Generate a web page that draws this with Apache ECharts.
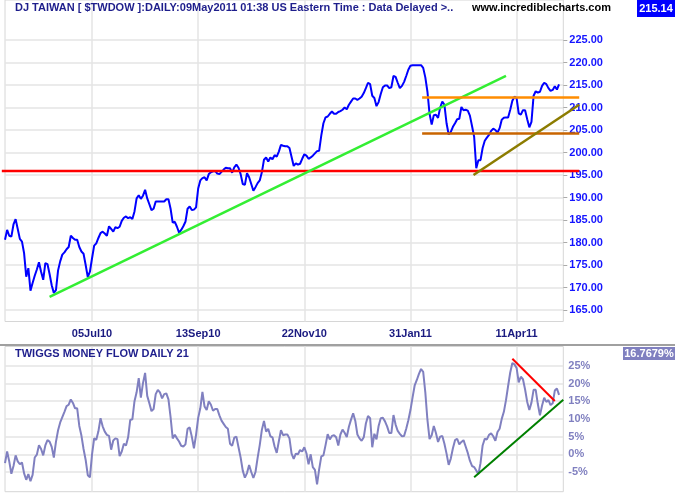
<!DOCTYPE html>
<html><head><meta charset="utf-8">
<script src="https://cdn.jsdelivr.net/npm/echarts@6/dist/echarts.min.js"></script>
<style>html,body{margin:0;padding:0;background:#fff}#c{width:675px;height:500px}</style>
</head><body><div id="c"></div>
<script>
// ---- data ----
const tickLabels = ['05Jul10','13Sep10','22Nov10','31Jan11','11Apr11'];
const priceTicks = [165,170,175,180,185,190,195,200,205,210,215,220,225];
const mfTicks = [-5,0,5,10,15,20,25];

const price = [
180.6,182.8,181.5,181.3,184,185.2,183,180.8,180.2,177.6,
172.4,174.3,169.3,171,172.6,174,175.6,173.5,171.7,175.4,
175.2,173,170.5,168.8,169.4,173.8,175.8,177.3,177.8,178.5,
179,181.5,181,180.6,180.6,179,178,177.5,175,172.3,
173.5,176.5,179.3,179.8,181,182.1,182.4,182,181.5,183.6,
183,182.4,183.4,183.2,183.5,184.8,185.5,185.8,185.4,185.6,
185.2,186.9,189.8,190.5,189.7,190.4,191.7,189.8,188.5,187.2,
187.5,189.1,189.1,189.1,189.1,189.1,189.6,189.6,187.5,184.4,
184.6,183.5,182.2,182.8,183.6,184.6,187.5,188,187.2,187.3,
187.8,192,193.8,194.3,194.5,193.8,195.2,195.6,195.8,195.9,
195.3,195.2,195.7,196.2,196.6,196.5,196.5,195.5,196.7,197.3,
196.6,195.2,193,192.8,195.4,194.5,193,191.5,192.3,193.2,
193.8,195.6,198.4,198.9,198,198.9,198.5,199.4,199.1,200.2,
201.7,201.5,201.4,201.4,201,199,197,197.6,197.3,197.5,
198.6,199.6,199.3,198.6,198.9,199.3,199.8,200.3,200.4,203.8,
206.5,207.8,208,208.6,209.1,208.6,208.6,209,209.2,209.5,
210,209.6,210.6,211.3,212,212,211.7,212,212.4,213.2,
214.3,215.5,215.2,212.6,212.1,210.3,211.2,213,214.5,214.9,
214.9,214.3,214.5,217,216.8,215.5,214.3,214.8,215.7,217,
218.4,219.3,219.4,219.4,219.4,219.4,219.4,218.8,216.7,213.5,
208.6,206.2,208.3,208.4,207.7,210,211.3,210.6,206.5,204,
204.6,205.7,206.5,207.4,207.5,210.1,209.4,209.5,209.3,208.2,
205.9,203.5,196.5,198.3,198.3,201,202.6,203.3,203.9,204.8,
205.3,205,204.4,205.4,207.3,207.7,207.8,207.8,209.5,211.5,
212.4,212.1,208.7,208.4,209.4,209.4,207.4,205.6,206.8,212.6,
213.6,213.3,213.5,214.8,215.5,215.2,214.3,213.7,213.9,214.7,
214,215.14];

const moneyFlow = [
-2.5,0.8,-2,-5.5,-3.3,-0.3,-2,-2.8,-2.3,-5.4,
-7.2,-5.6,-7.6,-5.8,-0.9,-0.1,2.6,1.5,-0.3,2.5,
4,3.6,2.1,-0.9,3.5,6.8,9,10.5,12,13.6,
14,15.5,14.5,13,13,8,5.3,1.5,-1.6,-5.9,
-6.5,0,4.5,4.1,6.5,10.2,7.9,6.4,5.5,5.2,
1.3,3.9,4.5,4.3,-0.5,0.8,3,2.5,4.8,9.7,
9.9,15,17.5,21.5,16,20.1,23,16.5,14.4,12.2,
12.8,17,18.2,17.5,15.8,17,17.2,15.5,10.5,4.5,
5.5,4.5,3.6,2.4,2.2,2.8,7.2,7.6,5,1.7,
5.5,10.3,13,17.6,13.5,12.5,15,14,12.3,12.8,
12.8,11,9.5,8.6,7.7,7.2,3,2.4,4.7,5,
2,-0.9,-4.6,-6.6,-5.3,-3,-5,-6.7,-5,-1,
2.6,6.9,9.4,6.4,7.2,5.1,4.8,2.2,0.4,3.7,
6.8,5.4,5.6,5.6,4.5,0.2,-1.3,0.2,0,1.2,
0.8,2,0.3,-2.8,0,-3.6,-4.4,-8.5,-4.2,-0.6,
-0.3,2.6,5.7,4.2,5.2,5.4,4.8,2.5,5.6,7,
6.1,4.9,7.8,9.8,11.6,9.5,5.6,4.5,3.8,4.8,
8.7,10.8,10.2,2,5.8,4.2,8,10.2,10.3,9.3,
7.9,6,6,11.1,8.4,6.6,5.8,5.1,5.2,7.2,
9.6,12.5,16.1,19.5,21,22.7,24.1,23.3,17.5,9.7,
4.3,5.4,8,6,3.5,5,5.2,3,0.2,-3,
-1.2,1.7,4,4.4,2.8,3.5,4,2.2,0.4,-1.8,
-3.3,-3.6,-4.6,-5.6,-2.5,2.5,4.4,4.2,5.5,5.9,
5.1,3.8,6.3,7.2,10,12,15.3,19.3,23.1,25.8,
25.4,24.4,20.3,21.9,21.2,18.3,14.8,12.5,14.6,18.2,
18.2,14.2,11,13.8,16,14.8,15.3,13.9,14.4,18,
18.6,16.77];

// annotation lines: [index, value] pairs
const supportLine = [[-1.5,195.9],[270.5,195.9]];
const longTrend = [[21,167.9],[236,217.0]];
const resistUpper = [[196.5,212.2],[270.5,212.2]];
const resistLower = [[196.5,204.2],[270.5,204.2]];
const shortTrend = [[220.7,195.0],[270.5,210.6]];
const mfResistance = [[239,27.0],[259,15.05]];
const mfSupport = [[221,-6.45],[263,15.4]];

const titleText = 'DJ TAIWAN [ $TWDOW ]:DAILY:09May2011 01:38 US Eastern Time : Data Delayed >..';
const siteText = 'www.incrediblecharts.com';
const mfTitle = 'TWIGGS MONEY FLOW DAILY 21';
const mfLastText = '16.7679%';

// ---- categories: trading days (Mon-Fri) ----
const MONTHS = ['Jan','Feb','Mar','Apr','May','Jun','Jul','Aug','Sep','Oct','Nov','Dec'];
const nDays = 264;
const dates = [];
let t = Date.UTC(2010,4,7);
while (dates.length < nDays) {
  const d = new Date(t);
  const wd = d.getUTCDay();
  if (wd !== 0 && wd !== 6) {
    dates.push(String(d.getUTCDate()).padStart(2,'0') + MONTHS[d.getUTCMonth()] + String(d.getUTCFullYear()).slice(2));
  }
  t += 86400000;
}
const tickSet = new Set(tickLabels);
const isTick = (i, v) => tickSet.has(v);

// ---- layout ----
const FONT = '"Liberation Sans", Arial, sans-serif';
const L = 5, R = 563.3;
const step = (R - L) / (nDays - 1);
const topH = 321.5;
const grid2Top = 346.5, grid2Bottom = 491.7;
const pMin = 162.44, pMax = 233.89;
const mMin = -10.56, mMax = 30.45;
const gridColor = '#e4e4e4';

const chart = echarts.init(document.getElementById('c'), null, {renderer:'canvas'});
const ovl = (data, color, width) => ({
  type:'line', xAxisIndex:2, yAxisIndex:2, data, symbol:'none', silent:true,
  lineStyle:{color, width}, z:5
});
chart.setOption({
  animation:false,
  backgroundColor:'#fff',
  grid:[
    {left:L, width:R-L, top:0, height:topH, show:true, borderColor:'#d6d6d6', borderWidth:1},
    {left:L, width:R-L, top:grid2Top, height:grid2Bottom-grid2Top, show:true, borderColor:'#d6d6d6', borderWidth:1},
    {left:L-2*step, width:273*step, top:0, height:topH, show:false}
  ],
  xAxis:[
    {type:'category', gridIndex:0, data:dates, boundaryGap:false,
     axisLine:{show:false}, axisTick:{show:false},
     axisLabel:{interval:isTick, color:'#1a1a80', fontWeight:'bold', fontSize:11, fontFamily:FONT, margin:7},
     splitLine:{show:true, interval:isTick, lineStyle:{color:gridColor, width:1.5}}},
    {type:'category', gridIndex:1, data:dates, boundaryGap:false,
     axisLine:{show:false},
     axisTick:{show:true, interval:isTick, length:5, lineStyle:{color:gridColor, width:1.5}},
     axisLabel:{show:false},
     splitLine:{show:true, interval:isTick, lineStyle:{color:gridColor, width:1.5}}},
    {type:'value', gridIndex:2, min:-2, max:271, show:false}
  ],
  yAxis:[
    {type:'value', gridIndex:0, position:'right', min:pMin, max:pMax,
     axisLine:{show:false},
     axisTick:{show:true, length:4, customValues:priceTicks, lineStyle:{color:'#aaa'}},
     axisLabel:{customValues:priceTicks, formatter:v=>Number(v).toFixed(2), color:'#1414ff', fontWeight:'bold', fontSize:11, fontFamily:FONT, margin:6},
     splitLine:{show:true, lineStyle:{color:gridColor, width:1.5}}},
    {type:'value', gridIndex:1, position:'right', min:mMin, max:mMax,
     axisLine:{show:false}, axisTick:{show:false, customValues:mfTicks},
     axisLabel:{customValues:mfTicks, formatter:v=>v+'%', color:'#8080c0', fontWeight:'bold', fontSize:11, fontFamily:FONT, margin:5},
     splitLine:{show:true, lineStyle:{color:gridColor, width:1.5}}},
    {type:'value', gridIndex:2, min:pMin, max:pMax, show:false}
  ],
  series:[
    {type:'line', xAxisIndex:0, yAxisIndex:0, data:price, symbol:'none', silent:true,
     lineStyle:{color:'#0000ff', width:2}},
    {type:'line', xAxisIndex:1, yAxisIndex:1, data:moneyFlow, symbol:'none', silent:true,
     lineStyle:{color:'#8080c0', width:2},
     markLine:{silent:true, symbol:['none','none'], label:{show:false}, animation:false,
       data:[
         [{yAxis:0, lineStyle:{color:'#8080c0', width:1.5, type:'solid'}}, {yAxis:0, x:R}],
         [{coord:[dates[mfResistance[0][0]], mfResistance[0][1]], lineStyle:{color:'#ff0000', width:2, type:'solid'}},
          {coord:[dates[mfResistance[1][0]], mfResistance[1][1]]}],
         [{coord:[dates[mfSupport[0][0]], mfSupport[0][1]], lineStyle:{color:'#008000', width:2, type:'solid'}},
          {coord:[dates[mfSupport[1][0]], mfSupport[1][1]]}]
       ]}},
    ovl(supportLine, '#ff0000', 2.5),
    ovl(longTrend, '#33ee33', 2.5),
    ovl(resistUpper, '#ff8c00', 2.5),
    ovl(resistLower, '#c86400', 2.5),
    ovl(shortTrend, '#8c7c00', 2.5)
  ],
  graphic:[
    {type:'text', x:15, y:8, z:10, style:{text:titleText, fill:'#1e1e8c', font:'bold 11px '+FONT, verticalAlign:'middle'}},
    {type:'text', x:472, y:8, z:10, style:{text:siteText, fill:'#000', font:'bold 11px '+FONT, verticalAlign:'middle'}},
    {type:'rect', z:10, shape:{x:637, y:0, width:38, height:17}, style:{fill:'#0000ff'}},
    {type:'text', x:656, y:8.5, z:11, style:{text:price[price.length-1].toFixed(2), fill:'#fff', font:'bold 11px '+FONT, align:'center', verticalAlign:'middle'}},
    {type:'line', z:10, shape:{x1:0, y1:345, x2:675, y2:345}, style:{stroke:'#a0a0a0', lineWidth:2}},
    {type:'text', x:15, y:353.5, z:10, style:{text:mfTitle, fill:'#1e1e8c', font:'bold 11px '+FONT, verticalAlign:'middle'}},
    {type:'rect', z:10, shape:{x:623, y:347, width:52, height:13}, style:{fill:'#8080c0'}},
    {type:'text', x:649, y:353.5, z:11, style:{text:mfLastText, fill:'#fff', font:'bold 11px '+FONT, align:'center', verticalAlign:'middle'}}
  ]
});
</script></body></html>
